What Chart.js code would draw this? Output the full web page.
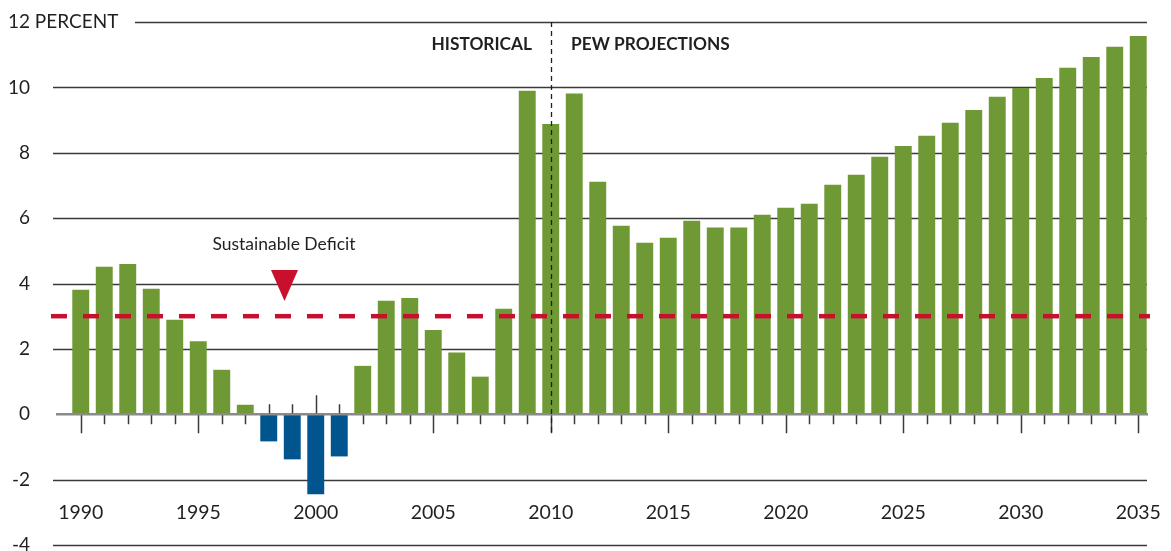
<!DOCTYPE html>
<html>
<head>
<meta charset="utf-8">
<script src="https://cdn.jsdelivr.net/npm/chart.js@4/dist/chart.umd.min.js"></script>
<style>
  html, body { margin: 0; padding: 0; background: #fff; }
  #deficitChart { display: block; }
</style>
</head>
<body>
<canvas id="deficitChart" width="1171" height="551"></canvas>
<script>
const years = ['1990', '1991', '1992', '1993', '1994', '1995', '1996', '1997', '1998', '1999',
               '2000', '2001', '2002', '2003', '2004', '2005', '2006', '2007', '2008', '2009',
               '2010', '2011', '2012', '2013', '2014', '2015', '2016', '2017', '2018', '2019',
               '2020', '2021', '2022', '2023', '2024', '2025', '2026', '2027', '2028', '2029',
               '2030', '2031', '2032', '2033', '2034', '2035'];
const deficit = [3.81, 4.51, 4.60, 3.84, 2.89, 2.23, 1.36, 0.29, -0.83, -1.38,
                 -2.45, -1.29, 1.48, 3.47, 3.56, 2.58, 1.89, 1.15, 3.23, 9.90,
                 8.88, 9.81, 7.11, 5.77, 5.25, 5.40, 5.92, 5.71, 5.71, 6.10,
                 6.32, 6.44, 7.02, 7.33, 7.88, 8.21, 8.52, 8.92, 9.31, 9.71,
                 9.98, 10.29, 10.60, 10.93, 11.24, 11.57];
const yTicks = [12, 10, 8, 6, 4, 2, 0, -2, -4];
const yearLabels = ['1990', '1995', '2000', '2005', '2010', '2015', '2020', '2025', '2030', '2035'];
const sustainableLevel = 3;
const splitYear = '2010';

const green = '#6e9935';
const blue = '#00558f';
const red = '#c8102e';
const ink = '#231f20';
const font = 'Lato, "Open Sans", sans-serif';

// axes, labels, annotations drawn by hand around the bars
const decorations = {
  id: 'decorations',
  beforeDatasetsDraw(chart) {
    const ctx = chart.ctx;
    const y = chart.scales.y;
    ctx.save();
    ctx.strokeStyle = '#3a3a3a';
    ctx.lineWidth = 1.5;
    yTicks.forEach(v => {
      if (v === 0) return;
      const py = Math.round(y.getPixelForValue(v)) + 0.5;
      ctx.beginPath();
      ctx.moveTo(v === 12 ? 135 : 53, py);
      ctx.lineTo(1147, py);
      ctx.stroke();
    });
    ctx.restore();
  },
  afterDatasetsDraw(chart) {
    const ctx = chart.ctx;
    const x = chart.scales.x;
    const y = chart.scales.y;
    const zero = y.getPixelForValue(0);
    ctx.save();

    // zero line
    ctx.strokeStyle = '#8a8a8a';
    ctx.lineWidth = 2.5;
    ctx.beginPath();
    ctx.moveTo(56, zero);
    ctx.lineTo(1148, zero);
    ctx.stroke();

    // year ticks, flipped up under negative bars
    ctx.strokeStyle = '#3a3a3a';
    ctx.lineWidth = 1.5;
    years.forEach((yr, i) => {
      const px = Math.round(x.getPixelForValue(i)) + 0.5;
      const len = (+yr % 5 === 0) ? 19 : 10;
      const dir = deficit[i] < 0 ? -1 : 1;
      ctx.beginPath();
      ctx.moveTo(px, zero + dir * 1);
      ctx.lineTo(px, zero + dir * len);
      ctx.stroke();
    });

    // historical / projection divider
    const sx = Math.round(x.getPixelForValue(years.indexOf(splitYear))) + 0.5;
    ctx.strokeStyle = ink;
    ctx.lineWidth = 1.3;
    ctx.setLineDash([5, 4]);
    ctx.beginPath();
    ctx.moveTo(sx, y.getPixelForValue(12));
    ctx.lineTo(sx, zero + 19);
    ctx.stroke();

    // sustainable deficit line
    const ry = y.getPixelForValue(sustainableLevel);
    ctx.strokeStyle = red;
    ctx.lineWidth = 4.5;
    ctx.setLineDash([16, 16]);
    ctx.beginPath();
    ctx.moveTo(51, ry);
    ctx.lineTo(1150, ry);
    ctx.stroke();
    ctx.setLineDash([]);

    // marker triangle + label
    ctx.fillStyle = red;
    ctx.beginPath();
    ctx.moveTo(271, 270);
    ctx.lineTo(298, 270);
    ctx.lineTo(284.5, 301);
    ctx.closePath();
    ctx.fill();

    ctx.fillStyle = ink;
    ctx.textBaseline = 'middle';
    ctx.textAlign = 'center';
    ctx.font = '17.5px ' + font;
    ctx.fillText('Sustainable Deficit', 284, 244);

    ctx.font = 'bold 17.3px ' + font;
    ctx.textAlign = 'right';
    ctx.fillText('HISTORICAL', 532, 44);
    ctx.textAlign = 'left';
    ctx.fillText('PEW PROJECTIONS', 571, 44);

    // y labels
    ctx.font = '19px ' + font;
    yTicks.forEach(v => {
      const py = y.getPixelForValue(v);
      const txt = String(v);
      if (v === 12) {
        ctx.textAlign = 'left';
        ctx.fillText(txt + ' PERCENT', 30 - ctx.measureText(txt).width, py);
      } else {
        ctx.textAlign = 'right';
        ctx.fillText(txt, 30, py);
      }
    });

    // year labels sit between the -2 and -4 lines
    ctx.font = '19.5px ' + font;
    ctx.textAlign = 'center';
    const ly = y.getPixelForValue(-3);
    yearLabels.forEach(lbl => {
      ctx.fillText(lbl, x.getPixelForValue(years.indexOf(lbl)), ly);
    });

    ctx.restore();
  }
};

const ctx = document.getElementById('deficitChart').getContext('2d');
new Chart(ctx, {
  type: 'bar',
  data: {
    labels: years,
    datasets: [{
      label: 'Deficit',
      data: deficit,
      backgroundColor: deficit.map(v => v < 0 ? blue : green),
      borderWidth: 0,
      barPercentage: 0.72,
      categoryPercentage: 1
    }]
  },
  options: {
    responsive: false,
    animation: false,
    devicePixelRatio: 1,
    layout: { padding: { left: 69, right: 21, top: 22, bottom: 6 } },
    scales: {
      x: { display: false },
      y: { display: false, min: -4, max: 12 }
    },
    plugins: {
      legend: { display: false },
      tooltip: { enabled: false }
    }
  },
  plugins: [decorations]
});
</script>
</body>
</html>
